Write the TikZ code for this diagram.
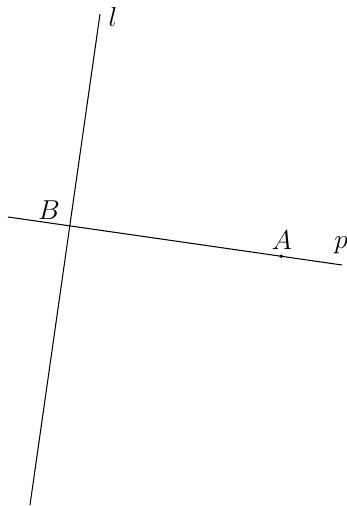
\documentclass[tikz,border=0pt]{standalone}
\usepackage{tikz}
\usetikzlibrary{positioning, calc, intersections}

\begin{document}
\begin{tikzpicture}[x=0.0185cm, y=-0.0185cm, line width=0.55pt]
        \tikzstyle{ptlabel} = [inner sep=1pt, font=\Large]
        \tikzstyle{dot} = [circle, fill, inner sep=0pt, minimum size=2pt]

        \useasboundingbox (0,0) rectangle (346,506);

        % the two lines
        \coordinate (ltop) at (100,14);
        \coordinate (lbot) at (30,505);
        \coordinate (pleft) at (8,217);
        \coordinate (pright) at (342,265);

        \draw [name path=linel] (ltop) -- (lbot);
        \draw [name path=linep] (pleft) -- (pright);
        \path [name intersections={of=linel and linep, by=B}];

        \node [dot] (A) at ($(pleft)!0.818!(pright)$) {};

        % labels
        \node [ptlabel] (lblB) at (49,210) {$B$};
        \node [ptlabel] (lblA) at (282,240) {$A$};
        \node [ptlabel] (lbll) at (113,17) {$l$};
        \node [ptlabel] (lblp) at (341,245) {$p$};
    \end{tikzpicture}
\end{document}
